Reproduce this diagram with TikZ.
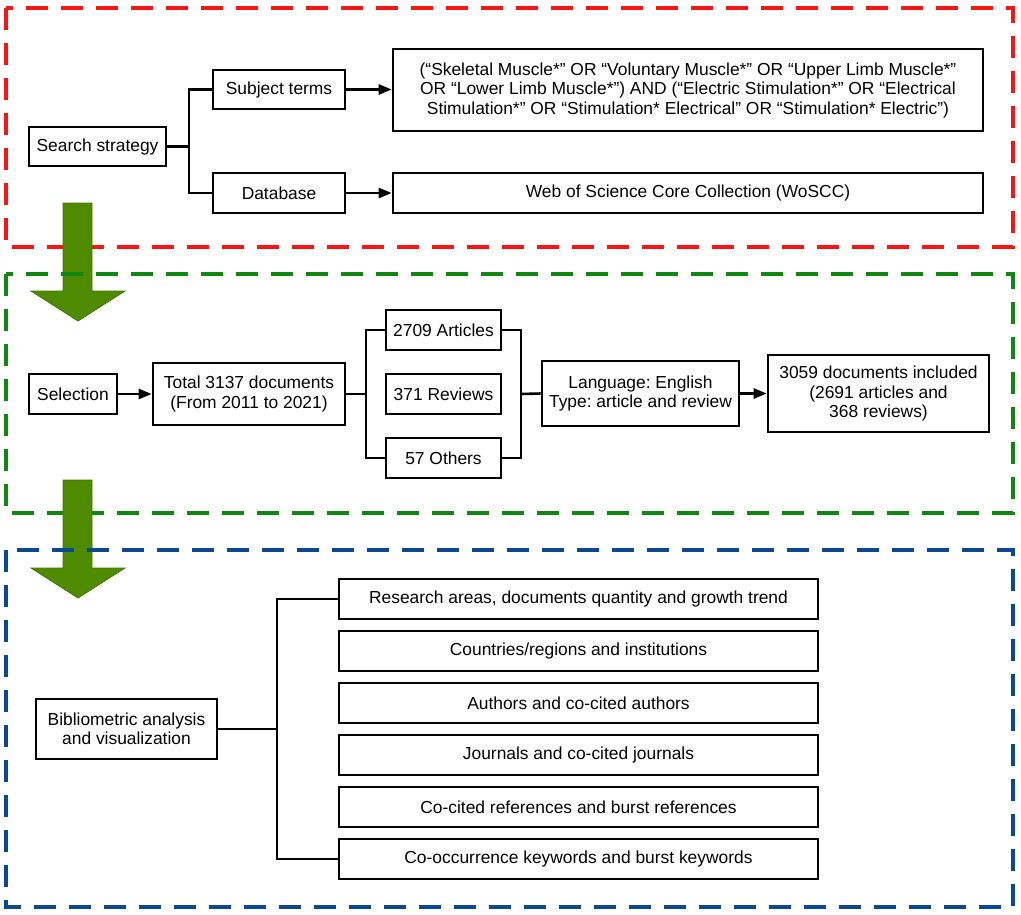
\documentclass[tikz,border=0pt]{standalone}
\usepackage{fontspec}
\setmainfont{Liberation Sans}
\usepackage{tikz}
\usetikzlibrary{arrows.meta,calc,positioning}
\definecolor{FrameRed}{RGB}{250,20,20}
\definecolor{FrameGreen}{RGB}{16,135,16}
\definecolor{FrameBlue}{RGB}{10,72,145}
\definecolor{ArrowGreen}{RGB}{78,139,0}
\definecolor{ArrowEdge}{RGB}{66,120,0}
\frenchspacing

\begin{document}
\begin{tikzpicture}[x=1pt,y=-1pt,>={Triangle[length=13pt,width=10pt]},
    box/.style={draw,line width=2.6pt,align=center,inner sep=2pt,
      font=\fontsize{17.4}{19.5}\selectfont},
    conn/.style={line width=2.6pt},
    thinconn/.style={line width=2pt},
    frame/.style={line width=4pt,dash pattern=on 22pt off 13pt},
    bigarrow/.style={fill=ArrowGreen,draw=ArrowEdge,line width=0.8pt}]
  \useasboundingbox (0,0) rectangle (1021,914);
  \draw[frame,FrameRed] (6,8) rectangle (1013,247);
  \filldraw[bigarrow] (63,203)--(92,203)--(92,291)--(125,291)
    --(78,321)--(31,291)--(63,291)--cycle;
  \draw[frame,FrameGreen] (6,274) rectangle (1013,513);
  \filldraw[bigarrow] (63,480)--(92,480)--(92,568)--(125,568)
    --(78,598)--(31,568)--(63,568)--cycle;
  \draw[frame,FrameBlue] (6,550) rectangle (1013,907);
  % search strategy
  \node[box,minimum width=137,minimum height=39] (search) at (97.5,146.5) {Search strategy};
  \node[box,minimum width=132,minimum height=39] (subj) at (279,89.5) {Subject terms};
  \node[box,minimum width=132,minimum height=40] (db) at (279,193) {Database};
  \node[box,minimum width=590,minimum height=82] (query) at (688,90)
    {(“Skeletal Muscle*” OR “Voluntary Muscle*” OR “Upper Limb Muscle*”\\
     OR “Lower Limb Muscle*”) AND (“Electric Stimulation*” OR “Electrical\\
     Stimulation*” OR “Stimulation* Electrical” OR “Stimulation* Electric”)};
  \node[box,minimum width=590,minimum height=40] (wos) at (688,193)
    {Web of Science Core Collection (WoSCC)};
  \coordinate (busA) at (189,146.5);
  \draw[conn] (search.east)--(busA);
  \draw[conn] (busA)|-(subj.west);
  \draw[conn] (busA)|-(db.west);
  \draw[conn,->] (subj.east)--(subj.east-|query.west);
  \draw[conn,->] (db.east)--(wos.west);
  % selection
  \node[box,minimum width=88,minimum height=40] (sel) at (73,394) {Selection};
  \node[box,minimum width=192,minimum height=62] (total) at (249,394)
    {Total 3137 documents\\(From 2011 to 2021)};
  \node[box,minimum width=115,minimum height=40] (art) at (443.5,330) {2709 Articles};
  \node[box,minimum width=115,minimum height=40] (rev) at (443.5,394) {371 Reviews};
  \node[box,minimum width=115,minimum height=40] (oth) at (443.5,458) {57 Others};
  \node[box,minimum width=197,minimum height=65] (lang) at (640.5,393.5)
    {Language: English\\Type: article and review};
  \node[box,minimum width=221,minimum height=77] (incl) at (878.5,393.5)
    {3059 documents included\\(2691 articles and\\368 reviews)};
  \coordinate (busL) at (366,394);
  \coordinate (busR) at (521,394);
  \draw[conn,->] (sel.east)--(total.west);
  \draw[conn] (total.east)--(busL);
  \draw[conn] (busL)|-(art.west);
  \draw[conn] (busL)|-(oth.west);
  \draw[conn] (art.east)-|(busR);
  \draw[conn] (oth.east)-|(busR);
  \draw[conn] (busR)--(lang.west);
  \draw[conn,->] (lang.east)--(incl.west);
  % analysis
  \node[box,minimum width=181,minimum height=60] (bib) at (126.5,729)
    {Bibliometric analysis\\and visualization};
  \foreach \lbl [count=\i from 0] in {Research areas{,} documents quantity and growth trend,
      Countries/regions and institutions,Authors and co-cited authors,
      Journals and co-cited journals,Co-cited references and burst references,
      Co-occurrence keywords and burst keywords}
    \node[box,minimum width=479,minimum height=40] (item\i) at (578.5,599+52*\i) {\lbl};
  \coordinate (busB) at (277,729);
  \draw[thinconn] (bib.east)--(busB);
  \draw[thinconn] (busB)|-(item0.west);
  \draw[thinconn] (busB)|-(item5.west);
\end{tikzpicture}
\end{document}
